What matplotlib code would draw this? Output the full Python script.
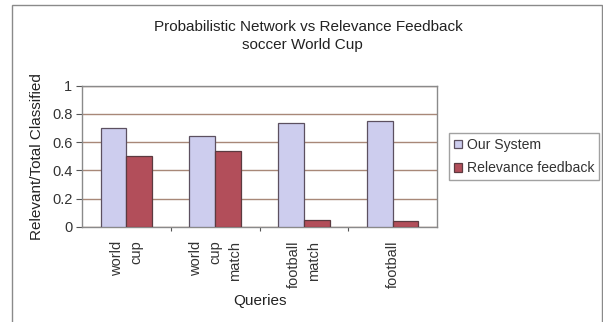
import matplotlib.pyplot as plt
from matplotlib.patches import Rectangle
import numpy as np

plt.rcParams['font.family'] = ['Liberation Sans', 'DejaVu Sans']

queries = ['world\ncup', 'world\ncup\nmatch', 'football\nmatch', 'football']
our_system = [0.70, 0.645, 0.735, 0.75]
relevance_feedback = [0.50, 0.54, 0.045, 0.038]
y_ticks = [0, 0.2, 0.4, 0.6, 0.8, 1]
y_tick_labels = ['0', '0.2', '0.4', '0.6', '0.8', '1']

fig = plt.figure(figsize=(6.03, 3.22), dpi=100)
fig.patch.set_facecolor('white')

# outer chart frame (bottom edge runs off the image)
fig.patches.append(Rectangle((12 / 603, -0.05), 590 / 603, 1.05 - 5 / 322,
                             transform=fig.transFigure, fill=False,
                             edgecolor='#8a8a8a', linewidth=1.0))

ax = fig.add_axes([82 / 603, 1 - 226.7 / 322, 355 / 603, 141 / 322])

x = np.arange(len(queries))
w = 0.29
ax.bar(x - w / 2, our_system, w, color='#cdcdee', edgecolor='#5c5060',
       linewidth=0.9, label='Our System', zorder=3)
ax.bar(x + w / 2, relevance_feedback, w, color='#b24e5a', edgecolor='#5c3a40',
       linewidth=0.9, label='Relevance feedback', zorder=3)

ax.set_xlim(-0.5, len(queries) - 0.5)
ax.set_ylim(0, 1)
ax.set_yticks(y_ticks)
ax.set_yticklabels(y_tick_labels, fontsize=10.5, color='#333333')
ax.yaxis.grid(True, color='#a88878', linewidth=1.0, zorder=0)

# category ticks sit between the groups, labels at group centres
ax.set_xticks(np.arange(len(queries) - 1) + 0.5)
ax.set_xticklabels([])
ax.set_xticks(x, minor=True)
ax.set_xticklabels(queries, minor=True, rotation=90, fontsize=10.5,
                   color='#333333', multialignment='right', linespacing=1.5)
ax.tick_params(axis='x', which='minor', length=0, pad=10)
ax.tick_params(axis='x', which='major', length=3, direction='out', color='#555555')
ax.tick_params(axis='y', length=4, direction='out', color='#555555', pad=3)

for side in ['top', 'right', 'left', 'bottom']:
    ax.spines[side].set_color('#8a8a8a')
    ax.spines[side].set_linewidth(1.0)

ax.set_ylabel('Relevant/Total Classified', fontsize=11, color='#222222', labelpad=6)
ax.set_xlabel('Queries', fontsize=11, color='#222222', labelpad=4)

fig.text(308 / 603, 1 - 27 / 322, 'Probabilistic Network vs Relevance Feedback',
         ha='center', va='center', fontsize=11, color='#222222')
fig.text(302 / 603, 1 - 45 / 322, 'soccer World Cup',
         ha='center', va='center', fontsize=11, color='#222222')

leg = fig.legend(loc='upper left', bbox_to_anchor=(449 / 603, 1 - 133 / 322),
                 fontsize=10.1, frameon=True, fancybox=False, handlelength=0.6,
                 handleheight=0.6, handletextpad=0.3, borderpad=0.35,
                 labelspacing=0.65, borderaxespad=0)
leg.get_frame().set_edgecolor('#8a8a8a')
leg.get_frame().set_linewidth(1.0)
for t in leg.get_texts():
    t.set_color('#333333')

plt.savefig('out.png', dpi=100, facecolor='white')
